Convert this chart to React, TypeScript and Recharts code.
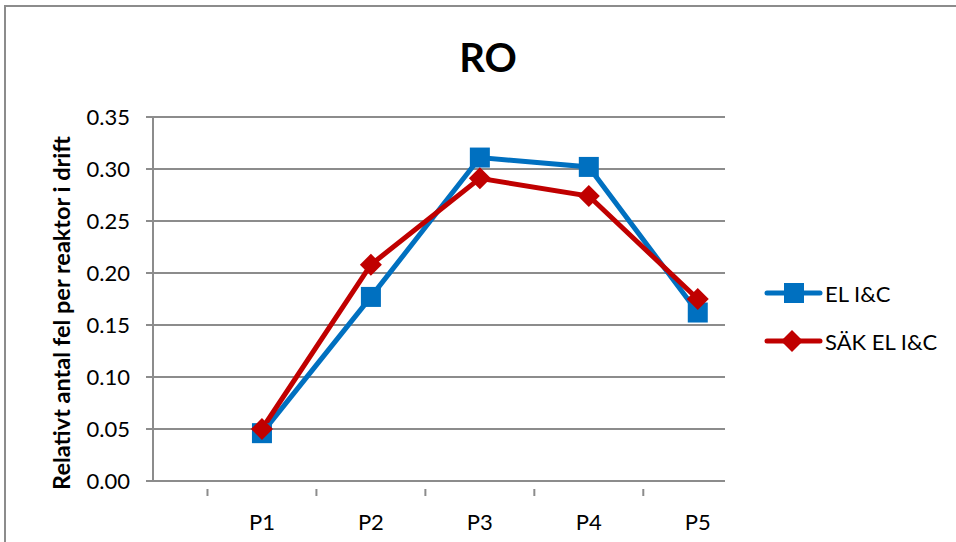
import React from "react";
import { LineChart, Line, XAxis, YAxis, CartesianGrid } from "recharts";

const categories = ["P1", "P2", "P3", "P4", "P5"];
const elIC = [0.046, 0.177, 0.311, 0.302, 0.162];
const sakElIC = [0.05, 0.208, 0.291, 0.274, 0.175];
const yTicks = [0, 0.05, 0.1, 0.15, 0.2, 0.25, 0.3, 0.35];
const seriesNames = ["EL I&C", "SÄK EL I&C"];
const title = "RO";
const yLabel = "Relativt antal fel per reaktor i drift";

const BLUE = "#0070C0";
const RED = "#C00000";
const GRID = "#8c8c8c";
const FONT = "Lato, 'Noto Sans', sans-serif";

const data = categories.map((c, i) => ({ x: i + 1, name: c, el: elIC[i], sak: sakElIC[i] }));
const xTicks = [0.5, 1, 1.5, 2, 2.5, 3, 3.5, 4, 4.5, 5];

const XTick = (props: any) => {
  const { x, y, payload } = props;
  const v = payload.value;
  if (Math.abs(v - Math.round(v)) > 0.01) {
    return <line x1={x} x2={x} y1={y} y2={y + 7} stroke={GRID} strokeWidth={2} />;
  }
  return (
    <text x={x} y={y + 32} textAnchor="middle" dominantBaseline="central" fontFamily={FONT} fontSize={22} fill="#000">
      {categories[Math.round(v) - 1]}
    </text>
  );
};

const SquareDot = (props: any) => {
  const { cx, cy } = props;
  if (cx == null || cy == null) return null;
  return <rect x={cx - 10} y={cy - 10} width={20} height={20} fill={BLUE} />;
};

const DiamondDot = (props: any) => {
  const { cx, cy } = props;
  if (cx == null || cy == null) return null;
  return <path d={`M${cx},${cy - 11} L${cx + 11},${cy} L${cx},${cy + 11} L${cx - 11},${cy} Z`} fill={RED} />;
};

export default function App() {
  return (
    <div style={{ position: "absolute", left: 0, top: 0, width: 956, height: 542, background: "#fff", overflow: "hidden" }}>
      <div style={{ position: "absolute", left: 4, top: 5, width: 1000, height: 600, border: "2px solid #8c8c8c", boxSizing: "border-box" }} />
      <LineChart width={956} height={542} data={data} margin={{ top: 117, right: 231, bottom: 0, left: 0 }} style={{ position: "absolute", left: 0, top: 0 }}>
        <CartesianGrid horizontal={true} vertical={false} stroke={GRID} strokeWidth={2} />
        <XAxis
          dataKey="x"
          type="number"
          domain={[0, 5.25]}
          ticks={xTicks}
          interval={0}
          tick={<XTick />}
          tickLine={false}
          axisLine={{ stroke: GRID, strokeWidth: 2 }}
          height={61}
          allowDataOverflow
        />
        <YAxis
          type="number"
          domain={[0, 0.35]}
          ticks={yTicks}
          interval={0}
          width={153}
          tickFormatter={(v: number) => v.toFixed(2)}
          tick={{ fontFamily: FONT, fontSize: 22, fill: "#000" }}
          tickLine={{ stroke: GRID, strokeWidth: 2 }}
          tickSize={7}
          tickMargin={16}
          axisLine={{ stroke: GRID, strokeWidth: 2 }}
        />
        <Line dataKey="el" name={seriesNames[0]} stroke={BLUE} strokeWidth={5} dot={<SquareDot />} isAnimationActive={false} />
        <Line dataKey="sak" name={seriesNames[1]} stroke={RED} strokeWidth={5} dot={<DiamondDot />} isAnimationActive={false} />
      </LineChart>
      <div style={{ position: "absolute", left: 0, width: 976, top: 32, textAlign: "center", fontFamily: FONT, fontWeight: 700, fontSize: 40, color: "#000", lineHeight: "50px" }}>
        {title}
      </div>
      <svg width={956} height={542} style={{ position: "absolute", left: 0, top: 0, pointerEvents: "none" }}>
        <text x={61} y={313} transform="rotate(-90 61 313)" textAnchor="middle" dominantBaseline="central" fontFamily={FONT} fontWeight={700} fontSize={23.5} fill="#000">
          {yLabel}
        </text>
        <g>
          <line x1={767} x2={820} y1={293} y2={293} stroke={BLUE} strokeWidth={5} strokeLinecap="round" />
          <rect x={784} y={283} width={20} height={20} fill={BLUE} />
          <text x={825} y={293} dominantBaseline="central" fontFamily={FONT} fontSize={22} fill="#000">{seriesNames[0]}</text>
          <line x1={767} x2={820} y1={341} y2={341} stroke={RED} strokeWidth={5} strokeLinecap="round" />
          <path d="M792,330 L803,341 L792,352 L781,341 Z" fill={RED} />
          <text x={825} y={341} dominantBaseline="central" fontFamily={FONT} fontSize={22} fill="#000">{seriesNames[1]}</text>
        </g>
      </svg>
    </div>
  );
}
